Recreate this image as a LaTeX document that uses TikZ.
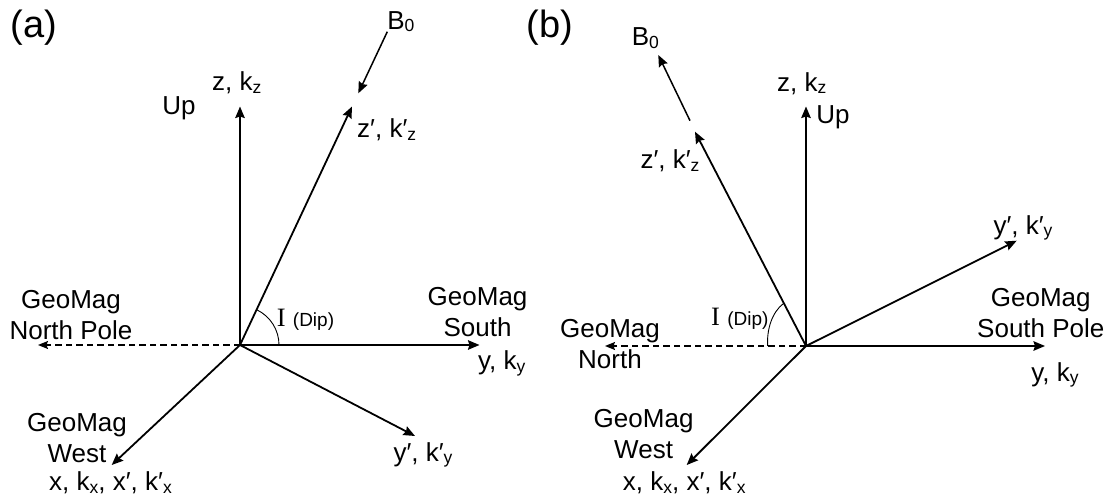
\documentclass[tikz,border=0pt]{standalone}
\usepackage{fontspec}
\setmainfont{Liberation Sans}
\newfontfamily\serifI{Liberation Serif}
\usetikzlibrary{arrows.meta}
\newcommand\lsub[1]{\raisebox{-2.5pt}{\fontsize{17.5}{17.5}\selectfont #1}}
\newcommand\dipword{{\fontsize{19}{19}\selectfont (Dip)}}
\newcommand\dipsym{{\serifI\fontsize{26.5}{26.5}\selectfont I}}
\tikzset{
  lbl/.style={inner sep=0pt, font=\fontsize{26}{31}\selectfont, align=center},
  panel/.style={inner sep=0pt, font=\fontsize{38}{38}\selectfont},
  axis/.style={line width=1.8pt, -{Stealth[length=11.5pt,width=9.5pt,inset=1.5pt]}},
  bzero/.style={line width=1.5pt, -{Stealth[length=11.5pt,width=9.5pt,inset=1.5pt]}},
  dashaxis/.style={line width=1.2pt, dash pattern=on 6.5pt off 4pt, -{Stealth[length=10pt,width=8pt,inset=1.5pt]}},
  arcline/.style={line width=0.9pt}
}
\begin{document}
\begin{tikzpicture}[x=1pt,y=-1pt]
\useasboundingbox (0,0) rectangle (1114,502);
% ---------------- panel (a) ----------------
\coordinate (Oa) at (240,345);
\coordinate (upA) at (240,106.5);
\coordinate (zpA) at (352,106.5);
\coordinate (yA) at (479.5,345);
\coordinate (nA) at (38,345);
\coordinate (xA) at (111.7,465);
\coordinate (ypA) at (415,436);
\coordinate (b0sA) at (387.3,31.7);
\coordinate (b0eA) at (358.3,93.3);
\draw[axis] (Oa) -- (upA);
\draw[axis] (Oa) -- (zpA);
\draw[axis] (Oa) -- (yA);
\draw[axis] (Oa) -- (xA);
\draw[axis] (Oa) -- (ypA);
\draw[dashaxis] (Oa) -- (nA);
\draw[bzero] (b0sA) -- (b0eA);
\draw[arcline] (279,345) arc[start angle=0, end angle=-64, radius=39];
\node[panel] (pa) at (34.2,27.5) {(a)};
\node[lbl] (upa) at (178.9,108.2) {Up};
\node[lbl] (zkza) at (236.7,83) {z, k\lsub{z}};
\node[lbl] (b0a) at (400.8,21.7) {B\lsub{0}};
\node[lbl] (zpkza) at (386.7,130) {z′, k′\lsub{z}};
\node[lbl] (northa) at (71,315) {GeoMag\\North Pole};
\node[lbl, anchor=base west] (dipa) at (276.7,327) {\dipsym\ \dipword};
\node[lbl] (southa) at (477.6,312.3) {GeoMag\\South};
\node[lbl] (ykya) at (501.7,363.3) {y, k\lsub{y}};
\node[lbl] (ypkya) at (423,455) {y′, k′\lsub{y}};
\node[lbl] (westa) at (77,438.3) {GeoMag\\West};
\node[lbl] (xa) at (110.5,483) {x, k\lsub{x}, x′, k′\lsub{x}};
% ---------------- panel (b) ----------------
\coordinate (Ob) at (806,346);
\coordinate (upB) at (806,106.5);
\coordinate (zpB) at (695,131.7);
\coordinate (yB) at (1045,346);
\coordinate (nB) at (605,346);
\coordinate (xB) at (686.7,465);
\coordinate (ypB) at (1016.7,240.7);
\coordinate (b0sB) at (690,120.7);
\coordinate (b0eB) at (658.3,55);
\draw[axis] (Ob) -- (upB);
\draw[axis] (Ob) -- (zpB);
\draw[axis] (Ob) -- (yB);
\draw[axis] (Ob) -- (xB);
\draw[axis] (Ob) -- (ypB);
\draw[dashaxis] (Ob) -- (nB);
\draw[bzero] (b0sB) -- (b0eB);
\draw[arcline] (767.7,346) .. controls (766.5,330) and (772,312) .. (783.5,303.5);
\node[panel] (pb) at (550,27.5) {(b)};
\node[lbl] (b0b) at (645.3,38.3) {B\lsub{0}};
\node[lbl] (zkzb) at (801.7,83.3) {z, k\lsub{z}};
\node[lbl] (upb) at (833,117.3) {Up};
\node[lbl] (zpkzb) at (670,160.8) {z′, k′\lsub{z}};
\node[lbl] (ypkyb) at (1023,228) {y′, k′\lsub{y}};
\node[lbl] (southb) at (1040.8,313) {GeoMag\\South Pole};
\node[lbl] (ykyb) at (1055,375) {y, k\lsub{y}};
\node[lbl] (northb) at (610,344) {GeoMag\\North};
\node[lbl, anchor=base west] (dipb) at (711,325.5) {\dipsym\ \dipword};
\node[lbl] (westb) at (643.6,434) {GeoMag\\West};
\node[lbl] (xb) at (684.2,483) {x, k\lsub{x}, x′, k′\lsub{x}};
\end{tikzpicture}
\end{document}
